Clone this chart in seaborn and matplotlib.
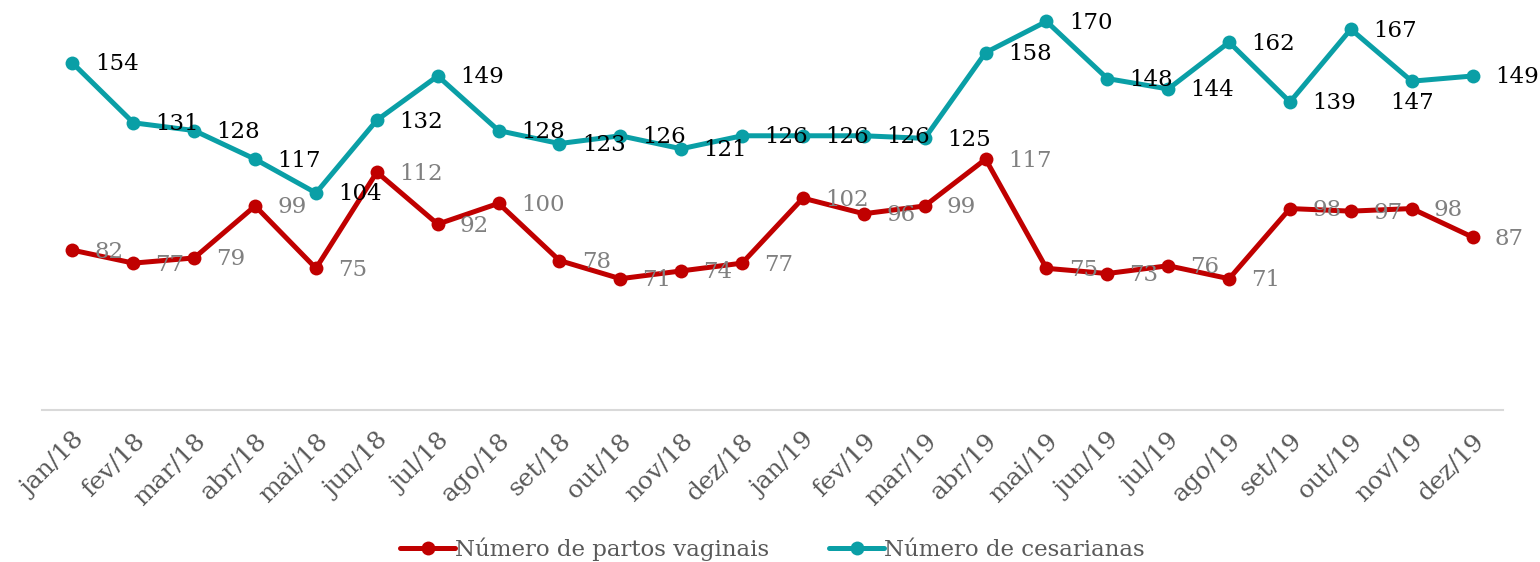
import matplotlib
matplotlib.use("Agg")
import matplotlib.pyplot as plt
import seaborn as sns
import pandas as pd

# data
months = ["jan/18", "fev/18", "mar/18", "abr/18", "mai/18", "jun/18",
          "jul/18", "ago/18", "set/18", "out/18", "nov/18", "dez/18",
          "jan/19", "fev/19", "mar/19", "abr/19", "mai/19", "jun/19",
          "jul/19", "ago/19", "set/19", "out/19", "nov/19", "dez/19"]
vaginais = [82, 77, 79, 99, 75, 112, 92, 100, 78, 71, 74, 77,
            102, 96, 99, 117, 75, 73, 76, 71, 98, 97, 98, 87]
cesarianas = [154, 131, 128, 117, 104, 132, 149, 128, 123, 126, 121, 126,
              126, 126, 125, 158, 170, 148, 144, 162, 139, 167, 147, 149]

SERIES = ["Número de partos vaginais", "Número de cesarianas"]
COLORS = ["#C00000", "#0A9FA6"]
LABEL_COLORS = ["#808080", "#000000"]

df = pd.concat([
    pd.DataFrame({"mes": months, "x": range(len(months)), "valor": vaginais, "serie": SERIES[0]}),
    pd.DataFrame({"mes": months, "x": range(len(months)), "valor": cesarianas, "serie": SERIES[1]}),
], ignore_index=True)

sns.set_style("white")
plt.rcParams["font.family"] = ["DejaVu Serif"]

fig = plt.figure(figsize=(15.4, 5.62), dpi=100)
ax = fig.add_axes([0.0273, 0.2705, 0.9487, 0.7099])

sns.lineplot(
    data=df, x="x", y="valor", hue="serie", hue_order=SERIES,
    palette=COLORS, style="serie", markers=["o", "o"], dashes=False,
    linewidth=3.6, markersize=10, markeredgewidth=0, ax=ax,
)

# data labels, right of each point (one pushed below)
for serie, vals, lc in zip(SERIES, [vaginais, cesarianas], LABEL_COLORS):
    for i, v in enumerate(vals):
        if serie == SERIES[1] and months[i] == "nov/19":
            ax.annotate(str(v), (i, v), xytext=(0, -8), textcoords="offset points",
                        ha="center", va="top", fontsize=16.5, color=lc)
        else:
            ax.annotate(str(v), (i, v), xytext=(16, -1), textcoords="offset points",
                        ha="left", va="center", fontsize=16.5, color=lc)

ax.set_xlim(-0.5, len(months) - 0.5)
ax.set_ylim(20.5, 174)
ax.set_xticks(range(len(months)))
ax.set_xticklabels(months, rotation=45, ha="right", rotation_mode="anchor",
                   fontsize=18, color="#595959")
ax.tick_params(axis="x", length=0, pad=14)
ax.set_yticks([])
ax.set_xlabel("")
ax.set_ylabel("")
for side in ["top", "left", "right"]:
    ax.spines[side].set_visible(False)
ax.spines["bottom"].set_color("#D9D9D9")
ax.spines["bottom"].set_linewidth(1.5)

sns.move_legend(ax, "lower center", bbox_to_anchor=(0.5, -0.43), ncol=2,
                frameon=False, title=None, fontsize=16.5, handlelength=2.4,
                handletextpad=0.0, columnspacing=2.6)
for t in ax.get_legend().get_texts():
    t.set_color("#595959")

fig.savefig("out.png", dpi=100)
